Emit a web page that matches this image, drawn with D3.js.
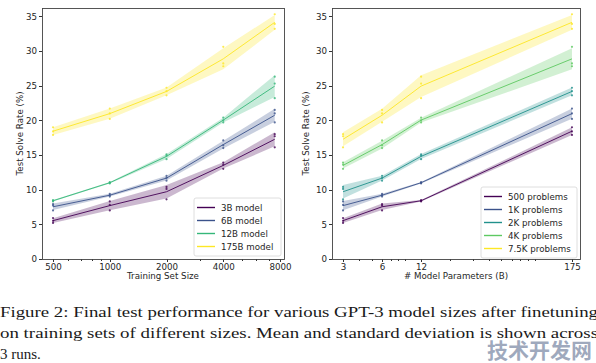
<!DOCTYPE html>
<meta charset='utf-8'>

<head>
  <style>
    body { margin: 0; background: #fff; }
    svg { display: block; }
    .axis text { font: 8.7px 'DejaVu Sans', sans-serif; fill: #262626; }
    .axis line { stroke: #333; shape-rendering: crispEdges; }
    .axis path { display: none; }
    .label { font: 8.7px 'DejaVu Sans', sans-serif; fill: #262626; }
    .legend text { font: 8.7px 'DejaVu Sans', sans-serif; fill: #262626; }
    .caption { font: 15px 'Liberation Serif', serif; fill: #1a1a1a; }
  </style>
</head>

<body>

<script src='https://d3js.org/d3.v7.min.js'></script>

<script>

// training set sizes (x of left panel, hue of right panel)
var trainSizes = [500, 1000, 2000, 4000, 7500];
var problemLabels = ['500 problems', '1K problems', '2K problems', '4K problems', '7.5K problems'];

// model sizes in billions (hue of left panel, x of right panel)
var modelSizes = [3, 6, 12, 175];
var modelLabels = ['3B model', '6B model', '12B model', '175B model'];

// solve rate (%) for each of the 3 runs, one row per training set size
var runs3B   = [[5.2, 5.5, 5.9], [7.0, 7.8, 8.3], [8.6, 10.1, 10.4], [13.0, 13.6, 13.9], [16.1, 17.7, 18.0]];
var runs6B   = [[7.0, 7.7, 7.9], [9.0, 9.2, 9.4], [11.3, 11.7, 12.0], [16.0, 16.4, 17.1], [19.7, 21.0, 21.5]];
var runs12B  = [[8.3, 8.4, 8.5], [10.9, 11.0, 11.1], [14.4, 14.9, 15.1], [19.7, 20.0, 20.4], [23.2, 25.3, 26.3]];
var runs175B = [[17.9, 18.4, 19.0], [20.2, 21.0, 21.7], [23.6, 24.2, 24.7], [27.8, 28.2, 30.6], [33.2, 33.9, 35.3]];
var runsByModel = [runs3B, runs6B, runs12B, runs175B];

var leftTicks = [500, 1000, 2000, 4000, 8000];
var leftMinor = [600, 700, 800, 900, 3000, 5000, 6000, 7000];
var rightTicks = [3, 6, 12, 175];
var rightMinor = [4, 5, 7, 8, 9, 20, 30, 40, 50, 60, 70, 80, 90];
var yTicks = [0, 5, 10, 15, 20, 25, 30, 35];

var modelColors = ['#440154', '#3b528b', '#35b779', '#fde725'];
var problemColors = ['#440154', '#3b528b', '#21918c', '#5ec962', '#fde725'];

var captionLines = [
  'Figure 2: Final test performance for various GPT-3 model sizes after finetuning',
  'on training sets of different sizes. Mean and standard deviation is shown across',
  '3 runs.'
];

var W = 596, H = 363;
var plotTop = 8, plotBottom = 259;

var svg = d3.select('body').append('svg')
    .attr('width', W)
    .attr('height', H);

svg.append('rect').attr('width', W).attr('height', H).attr('fill', '#fff');

var y = d3.scaleLinear().domain([0, 36.2]).range([plotBottom, plotTop]);

function panel(opt) {
  var x = d3.scaleLog().base(2).domain(opt.xDomain).range([opt.left, opt.right]);
  var g = svg.append('g');

  var area = d3.area()
      .x(d => x(d.x))
      .y0(d => y(d3.mean(d.runs) - d3.deviation(d.runs)))
      .y1(d => y(d3.mean(d.runs) + d3.deviation(d.runs)));
  var line = d3.line()
      .x(d => x(d.x))
      .y(d => y(d3.mean(d.runs)));

  opt.series.forEach(s => {
    g.append('path')
        .attr('d', area(s.points))
        .attr('fill', s.color)
        .attr('fill-opacity', 0.28);
    g.append('path')
        .attr('d', line(s.points))
        .attr('fill', 'none')
        .attr('stroke', s.color)
        .attr('stroke-opacity', 0.9)
        .attr('stroke-width', 1.0);
    s.points.forEach(p => {
      g.selectAll(null)
          .data(p.runs)
        .enter().append('circle')
          .attr('cx', x(p.x))
          .attr('cy', d => y(d))
          .attr('r', 1.1)
          .attr('fill', s.color)
          .attr('fill-opacity', 0.8);
    });
  });

  // axes
  g.append('g')
      .attr('class', 'axis')
      .attr('transform', 'translate(0,' + plotBottom + ')')
      .call(d3.axisBottom(x).tickValues(opt.ticks).tickFormat(d3.format('d')).tickSize(3).tickPadding(2));
  g.append('g')
      .attr('class', 'axis')
      .attr('transform', 'translate(0,' + plotBottom + ')')
      .call(d3.axisBottom(x).tickValues(opt.minor).tickFormat('').tickSize(1.5));
  g.append('g')
      .attr('class', 'axis')
      .attr('transform', 'translate(' + opt.left + ',0)')
      .call(d3.axisLeft(y).tickValues(yTicks).tickSize(3).tickPadding(2));

  g.append('rect')
      .attr('x', opt.left + 0.5)
      .attr('y', plotTop + 0.5)
      .attr('width', opt.right - opt.left)
      .attr('height', plotBottom - plotTop)
      .attr('fill', 'none')
      .attr('stroke', '#444')
      .attr('stroke-width', 0.9);

  g.append('text')
      .attr('class', 'label')
      .attr('x', (opt.left + opt.right) / 2)
      .attr('y', 279)
      .attr('text-anchor', 'middle')
      .text(opt.xLabel);
  g.append('text')
      .attr('class', 'label')
      .attr('transform', 'translate(' + opt.yLabelX + ',' + (plotTop + plotBottom) / 2 + ') rotate(-90)')
      .attr('text-anchor', 'middle')
      .text('Test Solve Rate (%)');

  // legend
  var lg = g.append('g').attr('class', 'legend');
  var L = opt.legend;
  lg.append('rect')
      .attr('x', L.x).attr('y', L.y)
      .attr('width', L.w).attr('height', opt.series.length * 13 + 6)
      .attr('rx', 2)
      .attr('fill', '#fff').attr('fill-opacity', 0.85)
      .attr('stroke', '#d6d6d6').attr('stroke-width', 0.8);
  opt.series.forEach((s, i) => {
    var yy = L.y + 9.5 + i * 13;
    lg.append('line')
        .attr('x1', L.x + 3).attr('x2', L.x + 21)
        .attr('y1', yy).attr('y2', yy)
        .attr('stroke', s.color).attr('stroke-width', 1.4);
    lg.append('text')
        .attr('x', L.x + 27).attr('y', yy + 3)
        .text(s.label);
  });
}

panel({
  left: 42, right: 284,
  xDomain: [437, 8400],
  ticks: leftTicks, minor: leftMinor,
  xLabel: 'Training Set Size', yLabelX: 23,
  legend: {x: 194, y: 198, w: 87},
  series: modelSizes.map((m, i) => ({
    label: modelLabels[i],
    color: modelColors[i],
    points: trainSizes.map((t, j) => ({x: t, runs: runsByModel[i][j]}))
  }))
});

panel({
  left: 332, right: 580,
  xDomain: [2.466, 201.8],
  ticks: rightTicks, minor: rightMinor,
  xLabel: '# Model Parameters (B)', yLabelX: 309,
  legend: {x: 481, y: 187, w: 96},
  series: trainSizes.map((t, j) => ({
    label: problemLabels[j],
    color: problemColors[j],
    points: modelSizes.map((m, i) => ({x: m, runs: runsByModel[i][j]}))
  }))
});

// caption
svg.selectAll('.caption')
    .data(captionLines)
  .enter().append('text')
    .attr('class', 'caption')
    .attr('x', 0)
    .attr('y', (d, i) => 317 + i * 21)
    .attr('textLength', (d, i) => i < 2 ? 598 : null)
    .attr('lengthAdjust', 'spacingAndGlyphs')
    .text(d => d);

// watermark
svg.append('text')
    .attr('x', 592)
    .attr('y', 358)
    .attr('text-anchor', 'end')
    .style('font', 'bold 21px "Noto Sans CJK SC", sans-serif')
    .attr('fill', '#7f8da8')
    .attr('fill-opacity', 0.75)
    .text('技术开发网');

</script>

</body>
